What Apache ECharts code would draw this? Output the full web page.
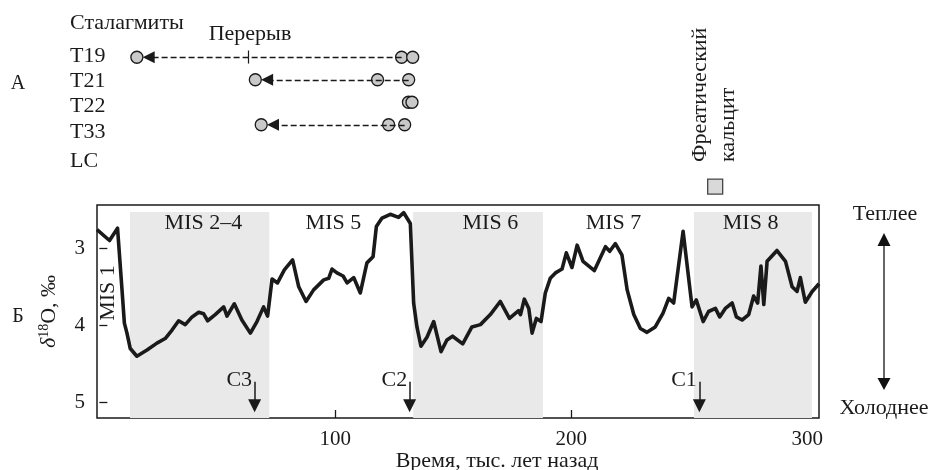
<!DOCTYPE html>
<html>
<head>
<meta charset="utf-8">
<script src="https://cdn.jsdelivr.net/npm/echarts@6/dist/echarts.min.js"></script>
<style>
  html, body { margin: 0; padding: 0; background: #fff; }
  #main { width: 930px; height: 470px; }
</style>
</head>
<body>
<div id="main"></div>
<script>
// кривая d18O (тыс. лет назад / промилле)
const timeKa = [-1, 4.3, 7.7, 9.6, 10.6, 11.7, 13.1, 15.9, 20.2, 24.4, 27.9, 30.8, 33.6, 36.4, 39.3, 42.1, 44.2, 45.9,
  49.1, 52.7, 54.1, 57.2, 60.4, 64.0, 66.8, 69.6, 71.3, 73.2, 75.5, 78.4, 81.9, 84.5, 87.6, 90.8, 95.1, 97.2, 98.6,
  100.7, 103.3, 105.0, 107.8, 110.6, 113.4, 116.0, 117.4, 119.8, 123.3, 126.8, 129.0, 131.8, 133.2, 134.6, 136.3,
  138.9, 141.7, 144.8, 147.3, 149.7, 154.0, 157.9, 161.5, 165.7, 169.9, 173.8, 177.7, 178.5, 180.1, 182.0, 183.4,
  185.2, 187.2, 189.0, 191.1, 193.3, 196.1, 197.9, 200.3, 202.5, 205.0, 209.8, 214.5, 216.3, 218.7, 221.5, 223.7,
  226.5, 229.3, 232.1, 235.6, 238.9, 241.3, 243.4, 247.4, 251.2, 253.0, 255.9, 258.2, 261.1, 262.9, 265.3, 268.2,
  270.0, 272.4, 275.2, 277.3, 279.0, 280.4, 281.6, 283.0, 287.2, 290.8, 293.6, 295.7, 297.1, 299.2, 302.1, 305];
const d18O = [2.76, 2.90, 2.74, 3.54, 3.97, 4.10, 4.30, 4.40, 4.32, 4.23, 4.17, 4.06, 3.94, 3.99, 3.89, 3.83, 3.85, 3.94,
  3.86, 3.76, 3.88, 3.72, 3.93, 4.10, 3.95, 3.76, 3.88, 3.40, 3.45, 3.28, 3.15, 3.50, 3.69, 3.54, 3.41, 3.39, 3.27,
  3.32, 3.36, 3.45, 3.38, 3.58, 3.19, 3.11, 2.72, 2.61, 2.56, 2.60, 2.54, 2.68, 3.71, 4.02, 4.27,
  4.15, 3.95, 4.34, 4.19, 4.14, 4.24, 4.02, 3.99, 3.86, 3.69, 3.91, 3.81, 3.86, 3.66, 3.78, 4.10,
  3.91, 3.95, 3.58, 3.39, 3.32, 3.27, 3.06, 3.25, 2.96, 3.17, 3.29, 2.98, 3.04, 2.94, 3.09, 3.54,
  3.86, 4.04, 4.09, 4.02, 3.84, 3.65, 3.71, 2.78, 3.76, 3.67, 3.95, 3.82, 3.78, 3.89, 3.78, 3.71,
  3.89, 3.93, 3.86, 3.62, 3.71, 3.23, 3.73, 3.17, 3.03, 3.17, 3.50, 3.56, 3.38, 3.70, 3.56, 3.46];

// морские изотопные стадии
const misBands = [[13, 72], [133, 188], [252, 302]];
const misNames = ['MIS 1', 'MIS 2–4', 'MIS 5', 'MIS 6', 'MIS 7', 'MIS 8'];
const misNameAge = [3.8, 44.1, 99.2, 165.7, 217.9, 276];

// похолодания
const coolNames = ['C3', 'C2', 'C1'];
const coolAge = [65.8, 131.5, 254.3];

// сталагмиты
const stalNames = ['T19', 'T21', 'T22', 'T33', 'LC'];
const stalAges = [[15.9, 128.1, 132.8], [66.1, 117.9, 131.1], [131.0, 132.5], [68.6, 122.6, 129.4], []];
const growthFrom = [128.1, 131.1, null, 129.4];
const growthTo = [15.9, 66.1, null, 68.6];
const hiatusAge = 63;
const phreaticAge = 261;

const xTicks = [100, 200, 300];
const yTicks = [3, 4, 5];

const FONT = 'Liberation Serif';
const INK = '#1a1a1a';

const lineData = timeKa.map((t, i) => [t, d18O[i]]);

const circles = [];
stalAges.forEach((arr, row) => arr.forEach(a => circles.push([a, row + 0.5])));

const growthLines = [];
growthFrom.forEach((f, row) => {
  if (f == null) return;
  growthLines.push([{ coord: [f, row + 0.5] }, { coord: [growthTo[row] + 5, row + 0.5] }]);
});
growthLines.push([
  { coord: [hiatusAge, 0.2], symbol: 'none', lineStyle: { type: 'solid', width: 1.2 } },
  { coord: [hiatusAge, 0.78], symbol: 'none' }
]);

var myChart = echarts.init(document.getElementById('main'));

const option = {
  animation: false,
  textStyle: { fontFamily: FONT },
  grid: [
    { left: 97, right: 111, top: 205, bottom: 52, show: true, borderColor: INK, borderWidth: 1.5,
      backgroundColor: 'transparent', containLabel: false, outerBoundsMode: 'none' },
    { left: 97, right: 111, top: 46, height: 157.5, containLabel: false, outerBoundsMode: 'none' }
  ],
  xAxis: [
    {
      type: 'value', min: -1, max: 305, gridIndex: 0,
      axisLine: { show: false },
      axisTick: { inside: true, length: 8, lineStyle: { color: INK, width: 1.3 }, customValues: xTicks },
      axisLabel: { customValues: xTicks, margin: 11, fontSize: 21, color: INK, fontFamily: FONT },
      splitLine: { show: false }
    },
    { type: 'value', min: -1, max: 305, gridIndex: 1, show: false }
  ],
  yAxis: [
    {
      type: 'value', min: 2.44, max: 5.2, inverse: true, gridIndex: 0,
      axisLine: { show: false },
      axisTick: { inside: true, length: 8, lineStyle: { color: INK, width: 1.3 }, customValues: yTicks },
      axisLabel: { customValues: yTicks, margin: 12, fontSize: 21, color: INK, fontFamily: FONT },
      splitLine: { show: false },
      name: '{d|δ}{s|18}{a|O, ‰}',
      nameLocation: 'middle', nameRotate: 90, nameGap: 36,
      nameTextStyle: {
        color: INK,
        rich: {
          d: { fontSize: 22, fontStyle: 'italic', fontFamily: FONT, color: INK },
          s: { fontSize: 14, fontFamily: FONT, color: INK, padding: [0, 0, 10, 0] },
          a: { fontSize: 22, fontFamily: FONT, color: INK }
        }
      }
    },
    { type: 'value', min: 0, max: 7, inverse: true, gridIndex: 1, show: false }
  ],
  series: [
    {
      name: 'd18O', type: 'line', data: lineData, symbol: 'none', z: 3,
      lineStyle: { color: INK, width: 3.6, join: 'round' },
      markArea: {
        silent: true,
        itemStyle: { color: '#e9e9e9' },
        data: misBands.map(b => [{ xAxis: b[0], yAxis: 2.53 }, { xAxis: b[1], yAxis: 5.2 }])
      },
      markLine: {
        silent: true,
        symbol: ['none', 'triangle'],
        symbolSize: 13,
        lineStyle: { color: INK, width: 1.5, type: 'solid' },
        label: { show: false },
        data: coolAge.map(a => [{ coord: [a, 4.73] }, { coord: [a, 5.04] }])
      },
      markPoint: {
        silent: true,
        symbol: 'rect', symbolSize: 1,
        itemStyle: { color: 'rgba(0,0,0,0)' },
        label: { show: true, formatter: '{b}', color: INK, fontSize: 22, fontFamily: FONT },
        data: misNames.map((n, i) => ({
          name: n, coord: [misNameAge[i], i === 0 ? 3.58 : 2.67],
          label: i === 0 ? { rotate: 90 } : {}
        })).concat(coolNames.map((n, i) => ({
          name: n, coord: [coolAge[i], 4.706],
          label: { position: 'left', distance: 2 }
        })))
      }
    },
    {
      name: 'growth', type: 'line', xAxisIndex: 1, yAxisIndex: 1, data: [], z: 2,
      markLine: {
        silent: true,
        symbol: ['none', 'triangle'],
        symbolSize: 12,
        lineStyle: { color: INK, width: 1.4, type: [6, 3] },
        label: { show: false },
        data: growthLines
      }
    },
    {
      name: 'ages', type: 'scatter', xAxisIndex: 1, yAxisIndex: 1, data: circles, z: 4,
      symbolSize: 12, silent: true,
      itemStyle: { color: '#c9c9c9', borderColor: INK, borderWidth: 1.3, opacity: 1 }
    },
    {
      name: 'phreatic', type: 'scatter', xAxisIndex: 1, yAxisIndex: 1, data: [[phreaticAge, 6.25]], z: 4,
      symbol: 'rect', symbolSize: 15, silent: true,
      itemStyle: { color: '#cfcfcf', borderColor: INK, borderWidth: 1.3 }
    }
  ],
  graphic: [
    { type: 'text', x: 70, y: 23, style: { text: 'Сталагмиты', font: '22px ' + FONT, fill: INK, textVerticalAlign: 'middle' } },
    ...stalNames.map((n, i) => ({
      type: 'text', x: 70, y: [56, 81, 106, 132, 161][i],
      style: { text: n, font: '22px ' + FONT, fill: INK, textVerticalAlign: 'middle' }
    })),
    { type: 'text', x: 250, y: 34, style: { text: 'Перерыв', font: '22px ' + FONT, fill: INK, textAlign: 'center', textVerticalAlign: 'middle' } },
    { type: 'text', x: 18, y: 84, style: { text: 'А', font: '20px ' + FONT, fill: INK, textAlign: 'center', textVerticalAlign: 'middle' } },
    { type: 'text', x: 18, y: 317, style: { text: 'Б', font: '20px ' + FONT, fill: INK, textAlign: 'center', textVerticalAlign: 'middle' } },
    { type: 'text', x: 700, y: 162, rotation: Math.PI / 2, style: { text: 'Фреатический', font: '22px ' + FONT, fill: INK, textAlign: 'left', textVerticalAlign: 'middle' } },
    { type: 'text', x: 728, y: 162, rotation: Math.PI / 2, style: { text: 'кальцит', font: '22px ' + FONT, fill: INK, textAlign: 'left', textVerticalAlign: 'middle' } },
    { type: 'text', x: 497, y: 461, style: { text: 'Время, тыс. лет назад', font: '22px ' + FONT, fill: INK, textAlign: 'center', textVerticalAlign: 'middle' } },
    { type: 'text', x: 885, y: 214, style: { text: 'Теплее', font: '22px ' + FONT, fill: INK, textAlign: 'center', textVerticalAlign: 'middle' } },
    { type: 'text', x: 884, y: 408, style: { text: 'Холоднее', font: '22px ' + FONT, fill: INK, textAlign: 'center', textVerticalAlign: 'middle' } },
    // двойная стрелка
    { type: 'line', shape: { x1: 884, y1: 244, x2: 884, y2: 380 }, style: { stroke: '#333', lineWidth: 1.5 } },
    { type: 'polygon', shape: { points: [[884, 233], [877.5, 246], [890.5, 246]] }, style: { fill: '#111' } },
    { type: 'polygon', shape: { points: [[884, 390], [877.5, 378], [890.5, 378]] }, style: { fill: '#111' } }
  ]
};

myChart.setOption(option);
</script>
</body>
</html>
